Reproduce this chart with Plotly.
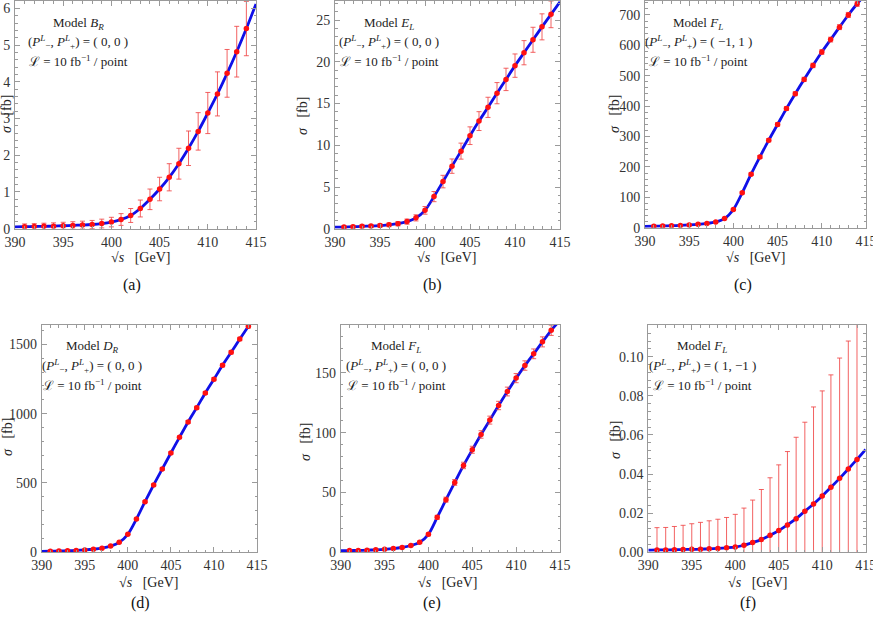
import plotly.graph_objects as go

W, H = 873, 619

# ---------------- data ----------------
energy = list(range(390, 416))        # sqrt(s) [GeV] for theory curves
point_energy = list(range(391, 415))  # sqrt(s) [GeV] for pseudo-data points

sigma_a = [0.05, 0.055, 0.06, 0.065, 0.07, 0.08, 0.09, 0.10, 0.115, 0.14, 0.18, 0.25, 0.36,
           0.55, 0.80, 1.08, 1.40, 1.77, 2.19, 2.65, 3.15, 3.67, 4.23, 4.82, 5.45, 6.12]
err_a = [0.075, 0.078, 0.084, 0.089, 0.095, 0.10, 0.105, 0.11, 0.12, 0.13, 0.16, 0.19,
         0.23, 0.28, 0.32, 0.37, 0.42, 0.47, 0.51, 0.56, 0.60, 0.65, 0.69, 0.74]

sigma_b = [0.18, 0.2, 0.24, 0.28, 0.32, 0.38, 0.46, 0.6, 0.85, 1.3, 2.2, 3.85, 5.65, 7.5,
           9.3, 11.15, 12.9, 14.55, 16.25, 17.9, 19.55, 21.1, 22.65, 24.2, 25.7, 27.2]
err_b = [0.14, 0.16, 0.17, 0.19, 0.2, 0.22, 0.26, 0.31, 0.37, 0.46, 0.61, 0.75, 0.86, 0.96,
         1.06, 1.13, 1.21, 1.27, 1.34, 1.40, 1.45, 1.5, 1.56, 1.6]

sigma_c = [4.5, 5, 5.7, 6.5, 7.5, 9, 11, 14, 19, 30, 60, 115, 176, 233, 288, 340, 392, 441,
           488, 534, 578, 619, 660, 700, 737, 770]
err_c = [0.7, 0.77, 0.84, 0.92, 1.0, 1.1, 1.26, 1.52, 1.82, 2.45, 3.4, 4.2, 4.8, 5.4, 5.8,
         6.3, 6.6, 7.0, 7.3, 7.6, 7.9, 8.1, 8.4, 8.6]

sigma_d = [7, 8, 9.5, 11, 13.5, 17, 22, 30, 45, 72, 130, 240, 365, 486, 601, 716, 829, 940,
           1043, 1149, 1248, 1349, 1442, 1538, 1630, 1720]
err_d = [0.9, 1.0, 1.1, 1.2, 1.4, 1.55, 1.9, 2.2, 2.7, 3.6, 4.9, 6.0, 7.0, 7.8, 8.5, 9.1,
         9.7, 10.2, 10.7, 11.2, 11.6, 12.0, 12.4, 12.8]

sigma_e = [1.3, 1.45, 1.6, 1.8, 2.1, 2.5, 3.1, 4.1, 5.7, 8.3, 15, 29.2, 44, 58.4, 72.6, 85.7,
           98.5, 110.5, 122.7, 134.4, 145.6, 156.1, 165.9, 175.9, 185.6, 194]
err_e = [0.39, 0.41, 0.45, 0.49, 0.54, 0.59, 0.69, 0.78, 0.91, 1.22, 1.71, 2.1, 2.42, 2.69,
         2.93, 3.14, 3.32, 3.5, 3.67, 3.82, 3.95, 4.07, 4.19, 4.31]

sigma_f = [0.0011, 0.0012, 0.0012, 0.0013, 0.0014, 0.0015, 0.0016, 0.0018, 0.0020, 0.0023,
           0.0027, 0.0036, 0.0050, 0.0065, 0.0087, 0.0111, 0.0140, 0.0172, 0.0210, 0.0247,
           0.0288, 0.0332, 0.0378, 0.0426, 0.0475, 0.0526]
err_f = [0.0114, 0.0115, 0.0119, 0.0124, 0.0131, 0.0137, 0.0143, 0.0149, 0.0155, 0.0167,
         0.0190, 0.0217, 0.0256, 0.0294, 0.0336, 0.0375, 0.0416, 0.0455, 0.0496, 0.0537,
         0.0575, 0.0615, 0.0654, 0.0695]

models = ["Model <i>B<sub>R</sub></i>", "Model <i>E<sub>L</sub></i>", "Model <i>F<sub>L</sub></i>",
          "Model <i>D<sub>R</sub></i>", "Model <i>F<sub>L</sub></i>", "Model <i>F<sub>L</sub></i>"]
polarisations = ["( 0, 0 )", "( 0, 0 )", "( −1, 1 )", "( 0, 0 )", "( 0, 0 )", "( 1, −1 )"]
captions = ["(a)", "(b)", "(c)", "(d)", "(e)", "(f)"]
y_ranges = [[0, 6.2], [0, 27.3], [0, 746], [0, 1639], [0, 190], [0, 0.1162]]
y_dticks = [1, 5, 100, 500, 50, 0.02]
y_minor = [0.2, 1, 20, 100, 10, 0.004]
y_formats = ["", "", "", "", "", ".2f"]

sigmas = [sigma_a, sigma_b, sigma_c, sigma_d, sigma_e, sigma_f]
errors = [err_a, err_b, err_c, err_d, err_e, err_f]

# ---------------- layout (pixel boxes of each panel) ----------------
boxes = [  # x0, x1, y0(top), y1(bottom) in pixels
    (15, 256, 1, 228.7),
    (335, 560, 1, 228.7),
    (645, 866, 1, 227.7),
    (41.7, 257, 325, 552.3),
    (340.7, 560, 325, 552.3),
    (648.3, 865.7, 325, 552.3),
]
label_pos = [
    (78, [23, 42, 61]),
    (389, [23, 42, 61]),
    (698, [23, 42, 61]),
    (92, [347, 366, 385]),
    (396, [347, 366, 385]),
    (702, [347, 366, 385]),
]
xtitle_pos = [(140, 257), (447, 257), (755, 257), (148, 582), (448, 582), (757, 582)]
ytitle_pos = [(7, 114), (303, 116), (615, 114), (7, 437), (305, 442), (615, 440)]
caption_pos = [(132, 285), (432, 285), (743, 285), (140, 603), (432, 603), (748, 603)]


def px(x):
    return x / W


def py(y):
    return 1 - y / H


FONT = "Liberation Serif"
FRAME = "#9a9a9a"

fig = go.Figure()
layout = dict(
    width=W, height=H, margin=dict(l=0, r=0, t=0, b=0, pad=0, autoexpand=False),
    paper_bgcolor="white", plot_bgcolor="white", showlegend=False,
    font=dict(family=FONT, color="#222222"),
)
annotations = []


def note(x, y, text, size, angle=0, color="#222222"):
    annotations.append(dict(x=px(x), y=py(y), xref="paper", yref="paper", text=text,
                            showarrow=False, xanchor="center", yanchor="middle",
                            textangle=angle, font=dict(family=FONT, size=size, color=color)))


for i in range(6):
    n = "" if i == 0 else str(i + 1)
    xa, ya = "x" + n, "y" + n
    x0, x1, yt, yb = boxes[i]
    sig = sigmas[i]

    fig.add_trace(go.Scatter(
        x=energy, y=sig, mode="lines", xaxis=xa, yaxis=ya,
        line=dict(color="#1010e8", width=2.8, shape="spline", smoothing=0.8),
        hoverinfo="skip"))
    fig.add_trace(go.Scatter(
        x=point_energy, y=sig[1:25], mode="markers", xaxis=xa, yaxis=ya,
        marker=dict(color="#ff1010", size=5.5),
        error_y=dict(type="data", array=errors[i], color="rgba(240,70,70,0.85)",
                     thickness=1, width=2.5)))

    common = dict(showline=True, linecolor=FRAME, linewidth=1, mirror="allticks",
                  ticks="inside", ticklen=5, tickcolor=FRAME, showgrid=False, zeroline=False,
                  automargin=False, ticklabeloverflow="allow",
                  tickfont=dict(family=FONT, size=14, color="#333333"))
    layout["xaxis" + n] = dict(
        domain=[px(x0), px(x1)], anchor=ya, range=[390, 415], dtick=5, tick0=390,
        minor=dict(dtick=1, ticks="inside", ticklen=2.5, tickcolor=FRAME),
        ticklabelstandoff=0, **common)
    layout["yaxis" + n] = dict(
        domain=[py(yb), py(yt)], anchor=xa, range=y_ranges[i], dtick=y_dticks[i], tick0=0,
        tickformat=y_formats[i],
        minor=dict(dtick=y_minor[i], ticks="inside", ticklen=2.5, tickcolor=FRAME),
        ticklabelstandoff=1, **common)

    cx, ys = label_pos[i]
    texts = [models[i],
             "(<i>P</i><sup><i>L</i></sup><sub>−</sub>, <i>P</i><sup><i>L</i></sup><sub>+</sub>) = "
             + polarisations[i],
             "ℒ = 10 fb<sup>−1</sup> / point"]
    for t, y in zip(texts, ys):
        note(cx, y, t, 13)
    note(*xtitle_pos[i], "√<i>s</i>   [GeV]", 14)
    note(*ytitle_pos[i], "<i>σ</i>   [fb]", 14, angle=-90)
    note(*caption_pos[i], captions[i], 16, color="#111111")

layout["annotations"] = annotations
fig.update_layout(**layout)
fig.write_html("out.html",
               config={"displayModeBar": False, "staticPlot": True},
               post_script="document.body.style.margin='0px';"
                           "document.body.style.overflow='hidden';")
